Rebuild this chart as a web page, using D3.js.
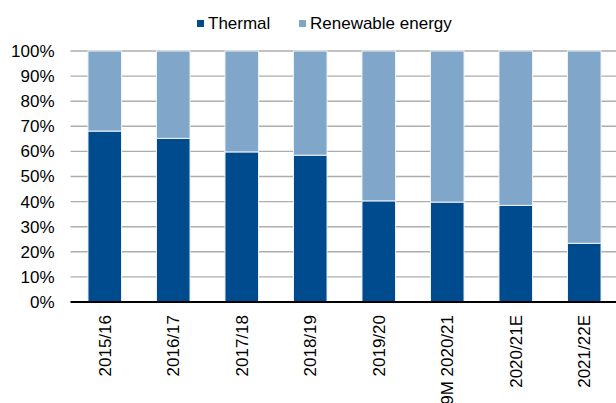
<!DOCTYPE html>
<html>
<head>
<meta charset="utf-8">
<script src="https://cdn.jsdelivr.net/npm/d3@7/dist/d3.min.js"></script>
<style>
  html, body { margin: 0; padding: 0; background: #fff; overflow: hidden; }
  svg { display: block; font-family: "Liberation Sans", Arial, sans-serif; }
</style>
</head>
<body>
<svg id="chart" width="616" height="403"></svg>
<script>
// Power generation mix by fiscal year (share of total, %)
const categories = ["2015/16", "2016/17", "2017/18", "2018/19", "2019/20", "9M 2020/21", "2020/21E", "2021/22E"];
const thermal   = [68.1, 65.2, 59.8, 58.5, 40.3, 39.8, 38.5, 23.4];
const renewable = [31.9, 34.8, 40.2, 41.5, 59.7, 60.2, 61.5, 76.6];
const seriesNames = ["Thermal", "Renewable energy"];
const seriesColors = ["#004b8d", "#80a7c9"];
const yTicks = [0, 10, 20, 30, 40, 50, 60, 70, 80, 90, 100];

const svg = d3.select("#chart");
const W = 616, H = 403;
const plot = { left: 70.5, right: 618.5, top: 51, bottom: 302 };

const x = d3.scaleBand()
  .domain(categories)
  .range([plot.left, plot.right])
  .paddingInner(0.51)
  .paddingOuter(0.255);

const y = d3.scaleLinear().domain([0, 100]).range([plot.bottom, plot.top]);

// Gridlines
svg.append("g")
  .selectAll("line")
  .data(yTicks.filter(d => d > 0))
  .join("line")
  .attr("x1", plot.left).attr("x2", W)
  .attr("y1", d => y(d)).attr("y2", d => y(d))
  .attr("stroke", "#adadad")
  .attr("stroke-width", 1.4);

// Stacked bars
const rows = categories.map((c, i) => ({ cat: c, Thermal: thermal[i], "Renewable energy": renewable[i] }));
const stacked = d3.stack().keys(seriesNames)(rows);

svg.append("g")
  .selectAll("g")
  .data(stacked)
  .join("g")
  .attr("fill", (d, i) => seriesColors[i])
  .selectAll("rect")
  .data(d => d)
  .join("rect")
  .attr("x", d => x(d.data.cat))
  .attr("width", x.bandwidth())
  .attr("y", d => y(d[1]))
  .attr("height", d => y(d[0]) - y(d[1]))
  .attr("stroke", "#eef3f8")
  .attr("stroke-width", 1);

// Y axis labels
const yAxis = svg.append("g")
  .attr("transform", `translate(${plot.left},0)`)
  .call(d3.axisLeft(y).tickValues(yTicks).tickFormat(d => d + "%").tickSize(0).tickPadding(16));
yAxis.select(".domain").remove();
yAxis.selectAll("text")
  .attr("font-size", "17px")
  .attr("font-family", "Liberation Sans, Arial, sans-serif")
  .attr("fill", "#000");

// Baseline
svg.append("line")
  .attr("x1", plot.left).attr("x2", W)
  .attr("y1", y(0)).attr("y2", y(0))
  .attr("stroke", "#000")
  .attr("stroke-width", 2);

// X axis labels (rotated)
const xAxis = svg.append("g")
  .attr("transform", `translate(0,${plot.bottom})`)
  .call(d3.axisBottom(x).tickSize(0).tickPadding(0));
xAxis.select(".domain").remove();
xAxis.selectAll("text")
  .attr("font-size", "17px")
  .attr("font-family", "Liberation Sans, Arial, sans-serif")
  .attr("fill", "#000")
  .attr("text-anchor", "end")
  .attr("transform", "rotate(-90)")
  .attr("x", -13)
  .attr("y", 0)
  .attr("dy", "0.35em");

// Legend
const legend = svg.append("g");
const legendItems = [
  { name: seriesNames[0], color: seriesColors[0], x: 197 },
  { name: seriesNames[1], color: seriesColors[1], x: 299 }
];
legendItems.forEach(item => {
  legend.append("rect")
    .attr("x", item.x).attr("y", 20)
    .attr("width", 7).attr("height", 7)
    .attr("fill", item.color);
  legend.append("text")
    .attr("x", item.x + 11).attr("y", 29)
    .attr("font-size", "17px")
    .attr("fill", "#000")
    .text(item.name);
});
</script>
</body>
</html>
